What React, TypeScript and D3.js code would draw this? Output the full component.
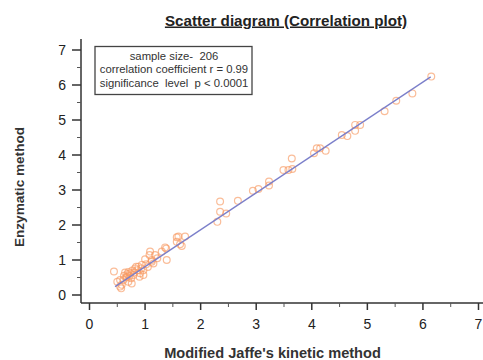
import React from "react";
import * as d3 from "d3";

const xValues = [
  0.44, 0.5, 0.55, 0.55, 0.57, 0.58, 0.61, 0.62, 0.64, 0.66, 0.67, 0.68, 0.7, 0.7, 0.72, 0.73, 0.75, 0.76, 0.77,
  0.79, 0.8, 0.82, 0.84, 0.86, 0.88, 0.9, 0.91, 0.93, 0.94, 0.97, 0.97, 1.0, 1.02, 1.05, 1.08, 1.09, 1.12, 1.12,
  1.15, 1.18, 1.22, 1.3, 1.36, 1.38, 1.39, 1.57, 1.57, 1.6, 1.63, 1.66, 1.72, 2.3, 2.35, 2.35, 2.46, 2.67, 2.94,
  3.04, 3.23, 3.23, 3.49, 3.58, 3.64, 3.65, 4.04, 4.09, 4.15, 4.25, 4.54, 4.64, 4.78, 4.87, 4.78, 5.31, 5.52,
  5.81, 6.15,
];
const yValues = [
  0.67, 0.38, 0.43, 0.24, 0.19, 0.29, 0.43, 0.55, 0.64, 0.5, 0.52, 0.6, 0.38, 0.66, 0.55, 0.62, 0.48, 0.33, 0.7,
  0.57, 0.64, 0.76, 0.81, 0.71, 0.81, 0.52, 0.62, 0.76, 0.86, 0.71, 0.57, 1.02, 0.88, 0.8, 1.14, 1.24, 1.0, 0.95,
  0.9, 1.14, 1.05, 1.24, 1.36, 1.33, 1.0, 1.65, 1.52, 1.67, 1.45, 1.4, 1.67, 2.09, 2.67, 2.38, 2.33, 2.69, 2.98,
  3.03, 3.24, 3.13, 3.57, 3.57, 3.9, 3.6, 4.05, 4.19, 4.19, 4.12, 4.57, 4.54, 4.86, 4.86, 4.69, 5.25, 5.55,
  5.76, 6.24,
];
const lineSlope = 1.055;
const lineIntercept = -0.245;
const lineXRange = [0.46, 6.14];
const majorTicks = [0, 1, 2, 3, 4, 5, 6, 7];
const minorTicks = [0.5, 1.5, 2.5, 3.5, 4.5, 5.5, 6.5];
const titleText = "Scatter diagram (Correlation plot)";
const xLabel = "Modified Jaffe's kinetic method";
const yLabel = "Enzymatic method";
const statLines = ["sample size-  206", "correlation coefficient r = 0.99", "significance  level  p < 0.0001"];

export default function App() {
  const W = 483, H = 360;
  const x = d3.scaleLinear().domain([0, 7]).range([89.5, 478.5]);
  const y = d3.scaleLinear().domain([0, 7]).range([295, 50]);
  const axisX = 81;
  const axisY = 303;
  const font = "'Liberation Sans', Arial, sans-serif";
  const pre = { whiteSpace: "pre" } as React.CSSProperties;
  const line = d3
    .line<number>()
    .x((d) => x(d))
    .y((d) => y(lineSlope * d + lineIntercept));
  return (
    <svg width={W} height={H} style={{ position: "absolute", left: 0, top: 0, background: "#fff" }} fontFamily={font}>
      <text x={286} y={25.5} textAnchor="middle" fontSize={15.2} fontWeight="bold" fill="#222" textDecoration="underline">
        {titleText}
      </text>
      {/* axes */}
      <line x1={axisX} x2={axisX} y1={39} y2={axisY} stroke="#333" strokeWidth={1.5} />
      <line x1={axisX} x2={483} y1={axisY} y2={axisY} stroke="#333" strokeWidth={1.5} />
      {majorTicks.map((t) => (
        <g key={"y" + t}>
          <line x1={axisX - 9} x2={axisX} y1={y(t)} y2={y(t)} stroke="#333" strokeWidth={1.5} />
          <text x={66} y={y(t) + 5} textAnchor="end" fontSize={14} fill="#222">
            {t}
          </text>
        </g>
      ))}
      {minorTicks.map((t) => (
        <line key={"ym" + t} x1={axisX - 4} x2={axisX} y1={y(t)} y2={y(t)} stroke="#555" strokeWidth={1} />
      ))}
      {majorTicks.map((t) => (
        <g key={"x" + t}>
          <line x1={x(t)} x2={x(t)} y1={axisY} y2={axisY + 7} stroke="#333" strokeWidth={1.5} />
          <text x={x(t)} y={329} textAnchor="middle" fontSize={14} fill="#222">
            {t}
          </text>
        </g>
      ))}
      {minorTicks.map((t) => (
        <line key={"xm" + t} x1={x(t)} x2={x(t)} y1={axisY} y2={axisY + 4} stroke="#555" strokeWidth={1} />
      ))}
      <text x={272.5} y={357.5} textAnchor="middle" fontSize={14.6} fontWeight="bold" fill="#333">
        {xLabel}
      </text>
      <text
        transform={`translate(23.5,187) rotate(-90)`}
        textAnchor="middle"
        fontSize={13.6}
        fontWeight="bold"
        fill="#333"
      >
        {yLabel}
      </text>
      {/* points */}
      {xValues.map((xv, i) => (
        <circle
          key={i}
          cx={x(xv)}
          cy={y(yValues[i])}
          r={3.4}
          fill="none"
          stroke="#f79a62"
          strokeOpacity={0.65}
          strokeWidth={1.2}
        />
      ))}
      <path d={line(lineXRange) || ""} fill="none" stroke="#7b7fca" strokeWidth={1.3} />
      {/* stats box */}
      <rect x={95} y={46.5} width={157} height={48} fill="#fff" stroke="#444" strokeWidth={1.3} />
      {statLines.map((s, i) => (
        <text key={s} x={174} y={60 + i * 13.3} textAnchor="middle" fontSize={11.3} fill="#333" style={pre}>
          {s}
        </text>
      ))}
    </svg>
  );
}
